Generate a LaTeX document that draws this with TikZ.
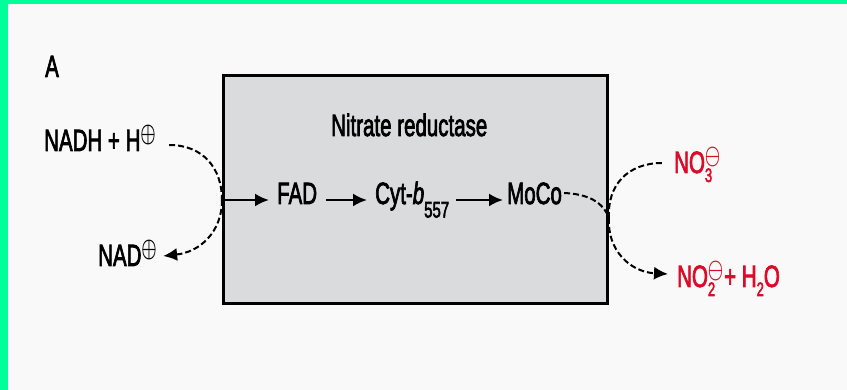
\documentclass[tikz,border=0pt]{standalone}
\usepackage{amsmath,amssymb}
\usepackage{fontspec}
\setmainfont{Liberation Sans}
\newfontfamily\heavy[FakeBold=3]{Liberation Sans}
\usetikzlibrary{arrows.meta}
\definecolor{pagebg}{HTML}{F9F9F9}
\definecolor{frame}{HTML}{00FF99}
\definecolor{enzyme}{HTML}{DADBDD}
\definecolor{ionred}{HTML}{DD0A28}
% text is set tall and narrow
\newcommand{\tall}[1]{\scalebox{1}[1.5]{#1}}
\newcommand{\chg}[1]{\raisebox{6pt}{\fontsize{16}{16}\selectfont$\boldsymbol{#1}$}}
\newcommand{\lowidx}[1]{\raisebox{-6pt}{\fontsize{13}{14}\selectfont #1}}
\newcommand{\ion}[2]{\makebox[0pt][l]{\chg{#1}}\lowidx{#2}}
\tikzset{
  lbl/.style={inner sep=0pt, anchor=base west, font=\heavy\fontsize{20.5}{24}\selectfont},
  redlbl/.style={lbl, text=ionred},
  flow/.style={line width=2.4pt, -{Latex[length=14pt,width=13pt]}},
  swing/.style={line width=2pt, dash pattern=on 6pt off 3pt},
  swingarrow/.style={swing, -{Latex[length=14pt,width=13pt]}}
}
\begin{document}
\begin{tikzpicture}[x=1pt,y=-1pt]
  % page and frame strips
  \fill[pagebg] (0,0) rectangle (847,390);
  \fill[frame] (0,0) rectangle (847,4);
  \fill[frame] (0,0) rectangle (8,390);
  \useasboundingbox (0,0) rectangle (847,390);

  \node[lbl] (panel) at (45,77) {\tall{A}};

  % enzyme box
  \node[draw=black, fill=enzyme, line width=3pt, minimum width=384pt,
        minimum height=228pt, inner sep=0pt] (enz) at (415.5,189.5) {};
  \node[lbl] (title) at (331,136) {\tall{Nitrate reductase}};

  % electron carriers
  \node[lbl] (fad)  at (277,204) {\tall{FAD}};
  \node[lbl] (cyt)  at (375,204) {\tall{Cyt-{\itshape b}\raisebox{-9pt}{\fontsize{15}{16}\selectfont 557}}};
  \node[lbl] (moco) at (507,204) {\tall{MoCo}};

  % substrates and products
  \node[lbl] (nadh) at (44,151) {\tall{NADH + H\chg{\oplus}}};
  \node[lbl] (nad)  at (98,266) {\tall{NAD\chg{\oplus}}};
  \node[redlbl] (no3) at (674,173) {\tall{NO\ion{\ominus}{3}}};
  \node[redlbl] (no2) at (677,287) {\tall{NO\ion{\ominus}{2}\hspace{9pt}+ H\lowidx{2}O}};

  % entry and exit points on the box edges
  \coordinate (ein)  at (enz.west |- 0,200);
  \coordinate (eout) at (enz.east |- 0,218);

  % electron flow
  \draw[flow] (ein) -- ([xshift=-8pt,yshift=4pt]fad.base west);
  \draw[flow] ([xshift=9pt,yshift=4pt]fad.base east) -- ([xshift=-8pt,yshift=4pt]cyt.base west);
  \draw[flow] ([xshift=7pt,yshift=4pt]cyt.base east) -- ([xshift=-4pt,yshift=4pt]moco.base west);

  % NADH oxidation
  \draw[swing] ([xshift=13pt,yshift=6pt]nadh.base east) .. controls (203,145) and (222,168) .. (ein);
  \draw[swingarrow] (ein) .. controls (222,232) and (200,252) .. ([xshift=6pt,yshift=10pt]nad.base east);

  % nitrate reduction
  \draw[swing] ([xshift=2pt,yshift=11pt]moco.base east) .. controls (588,194) and (603,202) .. (eout);
  \draw[swing] (eout) .. controls (607,185) and (628,163) .. ([xshift=-12pt,yshift=10pt]no3.base west);
  \draw[swingarrow] (eout) .. controls (607,250) and (630,272) .. ([xshift=-9pt,yshift=13pt]no2.base west);
\end{tikzpicture}
\end{document}
